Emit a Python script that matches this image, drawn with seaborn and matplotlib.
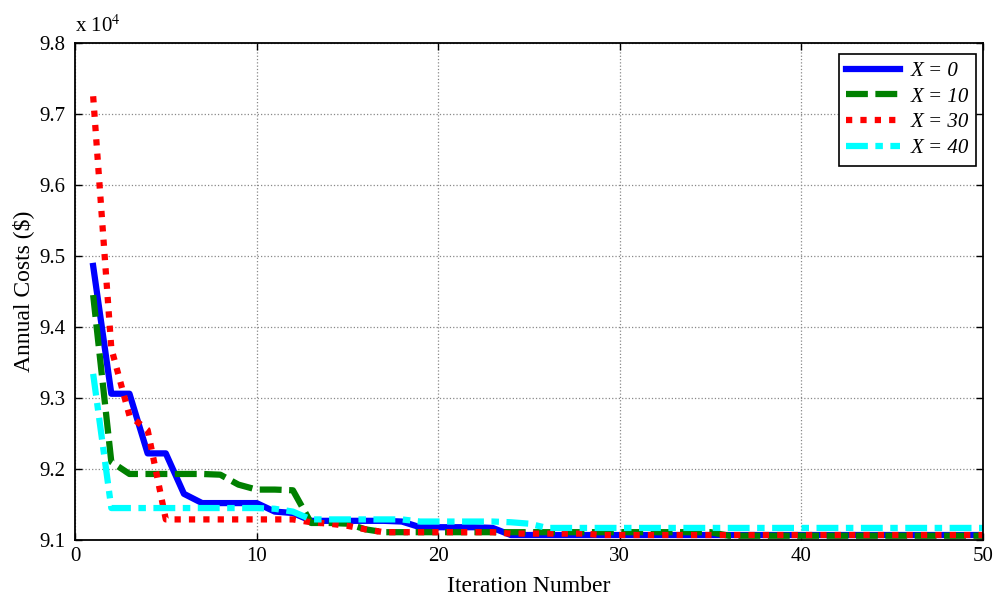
import matplotlib
matplotlib.use("Agg")
import matplotlib.pyplot as plt
import seaborn as sns
import numpy as np
import pandas as pd

# annual cost per iteration for each X setting (in $)
iterations = list(range(1, 51))

cost_x0 = ([94860, 93060, 93060, 92220, 92220, 91650, 91520, 91520, 91520, 91520,
            91400, 91380, 91270, 91270, 91270, 91270, 91270, 91260, 91180, 91180,
            91180, 91180, 91170] + [91070] * 27)
cost_x10 = ([94450, 92100, 91930, 91930, 91930, 91930, 91930, 91920, 91780, 91710,
             91710, 91700, 91240, 91240, 91230, 91150, 91110] + [91110] * 18 + [91060] * 15)
cost_x30 = ([97250, 93700, 92750, 92550, 91290, 91290, 91290, 91290, 91290, 91290,
             91290, 91290, 91250, 91230, 91200, 91150] + [91110] * 7 + [91090] * 5 + [91070] * 22)
cost_x40 = ([93340, 91450, 91450, 91450, 91450, 91450, 91450, 91450, 91450, 91450,
             91440, 91400] + [91290] * 6 + [91260] * 5 + [91250, 91230] + [91170] * 25)

series_labels = ["X = 0", "X = 10", "X = 30", "X = 40"]
series_values = [cost_x0, cost_x10, cost_x30, cost_x40]
colors = ["#0000ff", "#008000", "#ff0000", "#00ffff"]
styles = ["-", (0, (3.5, 1.2)), (0, (1.0, 1.3)), (0, (3.5, 1.2, 1.2, 1.2))]

plt.rcParams["font.family"] = ["Liberation Serif", "DejaVu Serif"]
plt.rcParams["mathtext.fontset"] = "stix"

fig = plt.figure(figsize=(9.96, 5.99), dpi=100)
ax = fig.add_axes([0.0753, 0.0985, 0.9116, 0.8297])

for label, vals, color, ls in zip(series_labels, series_values, colors, styles):
    df = pd.DataFrame({"Iteration": iterations, "Cost": np.array(vals) / 1e4})
    sns.lineplot(data=df, x="Iteration", y="Cost", color=color, linestyle=ls,
                 linewidth=4.5, label=label, ax=ax, legend=False)

ax.set_xlim(0, 50)
ax.set_ylim(9.1, 9.8)
ax.set_xticks(np.arange(0, 51, 10))
ax.set_yticks(np.arange(9.1, 9.81, 0.1))
ax.set_yticklabels([f"{v:.1f}" for v in np.arange(9.1, 9.81, 0.1)])
ax.tick_params(direction="in", top=True, right=True, labelsize=15, length=5, width=1)
ax.tick_params(axis="y", pad=7)
ax.tick_params(axis="x", pad=5)
ax.grid(True, color="#888888", linestyle=":", linewidth=0.9)
for sp in ax.spines.values():
    sp.set_linewidth(1.3)
    sp.set_color("black")

ax.set_xlabel("Iteration Number", fontsize=17, labelpad=7)
ax.set_ylabel("Annual Costs (\\$)", fontsize=17, labelpad=4)
ax.text(0.0, 1.012, r"x 10$^4$", transform=ax.transAxes, fontsize=15,
        ha="left", va="bottom")

leg = ax.legend(handles=ax.get_lines()[:4], labels=series_labels, loc="upper right",
                bbox_to_anchor=(0.9925, 0.978), borderaxespad=0, fancybox=False,
                framealpha=1, edgecolor="black", handlelength=2.6, handletextpad=0.5,
                borderpad=0.35, labelspacing=0.3,
                prop={"style": "italic", "size": 15, "family": "Liberation Serif"})
leg.get_frame().set_linewidth(1.2)

fig.savefig("out.png", dpi=100)
